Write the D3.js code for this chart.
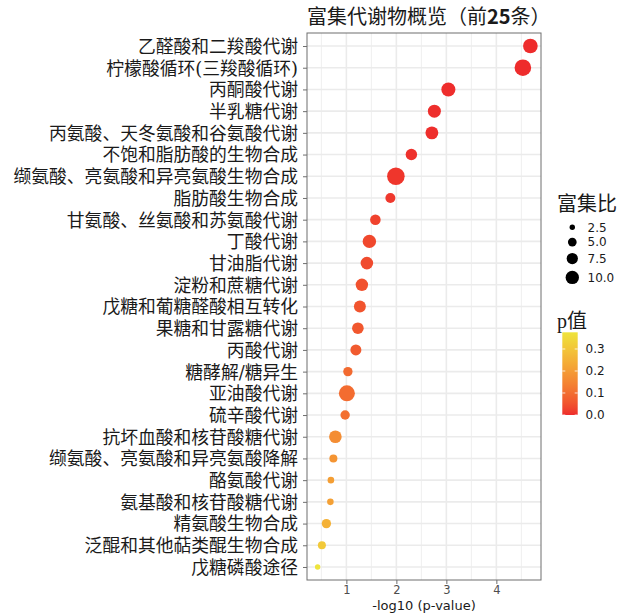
<!DOCTYPE html>
<html>
<head>
<meta charset="utf-8">
<script src="https://cdn.jsdelivr.net/npm/d3@7"></script>
<style>
  body { margin: 0; background: #ffffff; }
  svg { display: block; }
</style>
</head>
<body>
<svg id="chart" width="630" height="615"></svg>
<script>
// ---------------- data ----------------
const categories = [
  "乙醛酸和二羧酸代谢",
  "柠檬酸循环(三羧酸循环)",
  "丙酮酸代谢",
  "半乳糖代谢",
  "丙氨酸、天冬氨酸和谷氨酸代谢",
  "不饱和脂肪酸的生物合成",
  "缬氨酸、亮氨酸和异亮氨酸生物合成",
  "脂肪酸生物合成",
  "甘氨酸、丝氨酸和苏氨酸代谢",
  "丁酸代谢",
  "甘油脂代谢",
  "淀粉和蔗糖代谢",
  "戊糖和葡糖醛酸相互转化",
  "果糖和甘露糖代谢",
  "丙酸代谢",
  "糖酵解/糖异生",
  "亚油酸代谢",
  "硫辛酸代谢",
  "抗坏血酸和核苷酸糖代谢",
  "缬氨酸、亮氨酸和异亮氨酸降解",
  "酪氨酸代谢",
  "氨基酸和核苷酸糖代谢",
  "精氨酸生物合成",
  "泛醌和其他萜类醌生物合成",
  "戊糖磷酸途径"
];
// -log10(p-value)
const negLog10P = [4.68, 4.53, 3.04, 2.76, 2.71, 2.30, 1.99, 1.88, 1.58, 1.46,
                   1.41, 1.31, 1.27, 1.23, 1.19, 1.03, 1.01, 0.975, 0.78, 0.74,
                   0.69, 0.68, 0.60, 0.51, 0.425];
// enrichment ratio (富集比)
const enrichment = [11.6, 14.4, 10.8, 9.5, 9.3, 7.7, 15.9, 6.2, 6.8, 10.0,
                    9.0, 8.8, 8.3, 7.9, 7.2, 5.6, 13.5, 5.6, 9.0, 4.4,
                    3.3, 3.3, 5.6, 4.4, 2.5];
const sizeBreaks = [2.5, 5.0, 7.5, 10.0];
const colorBreaks = [0.0, 0.1, 0.2, 0.3];
const xTicks = [1, 2, 3, 4];
const xMinor = [0.5, 1.5, 2.5, 3.5, 4.5];

const titleText = ["富集代谢物概览（前", "25", "条）"];
const xTitle = "-log10 (p-value)";
const sizeTitle = "富集比";
const colorTitle = "p值";

// ---------------- layout ----------------
const W = 630, H = 615;
const panel = { left: 307, right: 541, top: 33, bottom: 580 };
const svg = d3.select("#chart");
svg.append("rect").attr("width", W).attr("height", H).attr("fill", "#ffffff");

const rows = categories.map((c, i) => ({
  cat: c, x: negLog10P[i], p: Math.pow(10, -negLog10P[i]), er: enrichment[i]
}));

const xExt = d3.extent(negLog10P);
const xPad = (xExt[1] - xExt[0]) * 0.05;
const x = d3.scaleLinear().domain([xExt[0] - xPad, xExt[1] + xPad])
  .range([panel.left, panel.right]);
const y = d3.scalePoint().domain(categories).range([panel.top, panel.bottom]).padding(0.6);

const r = d3.scaleSqrt().domain([2.5, 10]).range([2.7, 6.7]);

const pExt = d3.extent(rows, d => d.p);
const color = d3.scaleLinear().domain(pExt).range(["#EE2C2C", "#EEE43C"])
  .interpolate(d3.interpolateLab);

const gridColor = "#EBEBEB";
const sansFont = "'DejaVu Sans', sans-serif";
const cjkFont = "'DejaVu Serif', 'Noto Sans CJK SC', serif";

// grid
const grid = svg.append("g");
grid.selectAll("line.minor").data(xMinor.filter(v => x(v) > panel.left && x(v) < panel.right))
  .enter().append("line")
  .attr("x1", d => x(d)).attr("x2", d => x(d))
  .attr("y1", panel.top).attr("y2", panel.bottom)
  .attr("stroke", gridColor).attr("stroke-width", 0.8);
grid.selectAll("line.majx").data(xTicks).enter().append("line")
  .attr("x1", d => x(d)).attr("x2", d => x(d))
  .attr("y1", panel.top).attr("y2", panel.bottom)
  .attr("stroke", gridColor).attr("stroke-width", 1.6);
grid.selectAll("line.majy").data(categories).enter().append("line")
  .attr("x1", panel.left).attr("x2", panel.right)
  .attr("y1", d => y(d)).attr("y2", d => y(d))
  .attr("stroke", gridColor).attr("stroke-width", 1.6);

// points
svg.append("g").selectAll("circle").data(rows).enter().append("circle")
  .attr("cx", d => x(d.x)).attr("cy", d => y(d.cat))
  .attr("r", d => r(d.er))
  .attr("fill", d => color(d.p));

// panel border
svg.append("rect")
  .attr("x", panel.left).attr("y", panel.top)
  .attr("width", panel.right - panel.left).attr("height", panel.bottom - panel.top)
  .attr("fill", "none").attr("stroke", "#6e6e6e").attr("stroke-width", 1);

// x axis
const xAxis = svg.append("g").attr("transform", `translate(0,${panel.bottom})`)
  .call(d3.axisBottom(x).tickValues(xTicks).tickSize(4).tickPadding(2).tickFormat(d3.format("d")));
xAxis.select(".domain").remove();
xAxis.selectAll("line").attr("stroke", "#6e6e6e");
xAxis.selectAll("text").attr("font-family", sansFont).attr("font-size", 11.5).attr("fill", "#4D4D4D");

// y axis
const yAxis = svg.append("g").attr("transform", `translate(${panel.left},0)`)
  .call(d3.axisLeft(y).tickSize(4).tickPadding(5));
yAxis.select(".domain").remove();
yAxis.selectAll("line").attr("stroke", "#6e6e6e");
yAxis.selectAll("text").attr("font-family", cjkFont).attr("font-size", 17.8)
  .attr("fill", "#1a1a1a").attr("dy", "0.36em");

// x title
svg.append("text").attr("x", (panel.left + panel.right) / 2).attr("y", 609.5)
  .attr("text-anchor", "middle").attr("font-family", sansFont).attr("font-size", 13)
  .attr("fill", "#1a1a1a").text(xTitle);

// title
const t = svg.append("text").attr("x", panel.left).attr("y", 24)
  .attr("font-family", "'Noto Sans CJK SC', sans-serif").attr("font-size", 20)
  .attr("fill", "#1a1a1a");
t.append("tspan").text(titleText[0]);
t.append("tspan").attr("font-weight", "bold").text(titleText[1]);
t.append("tspan").text(titleText[2]);

// size legend
const lgX = 557;
svg.append("text").attr("x", lgX).attr("y", 211)
  .attr("font-family", cjkFont).attr("font-size", 20).attr("fill", "#1a1a1a").text(sizeTitle);
let cy = 220;
const keyH = sizeBreaks.map(v => Math.max(14.5, 2 * r(v) + 6.5));
const keyCenters = [];
keyH.forEach((h, i) => {
  if (i === 0) cy += h / 2; else cy += (keyH[i - 1] + h) / 2;
  keyCenters.push(cy);
});
const sl = svg.append("g");
sl.selectAll("circle").data(sizeBreaks).enter().append("circle")
  .attr("cx", 572.3).attr("cy", (d, i) => keyCenters[i]).attr("r", d => r(d)).attr("fill", "#000");
sl.selectAll("text").data(sizeBreaks).enter().append("text")
  .attr("x", 587.5).attr("y", (d, i) => keyCenters[i]).attr("dy", "0.36em")
  .attr("font-family", sansFont).attr("font-size", 12).attr("fill", "#1a1a1a")
  .text(d => d3.format(".1f")(d));

// color legend
svg.append("text").attr("x", lgX).attr("y", 328)
  .attr("font-family", "'Liberation Serif', 'Noto Sans CJK SC', serif").attr("font-size", 20)
  .attr("fill", "#1a1a1a").text(colorTitle);
const cb = { x: 562.3, w: 15.4, top: 332.3, bottom: 415 };
const cbScale = d3.scaleLinear().domain(pExt).range([cb.bottom, cb.top]);
const defs = svg.append("defs");
const grad = defs.append("linearGradient").attr("id", "pgrad")
  .attr("x1", 0).attr("y1", 1).attr("x2", 0).attr("y2", 0);
d3.range(0, 1.0001, 0.05).forEach(f => {
  const pv = pExt[0] + f * (pExt[1] - pExt[0]);
  grad.append("stop").attr("offset", f).attr("stop-color", color(pv));
});
svg.append("rect").attr("x", cb.x).attr("y", cb.top).attr("width", cb.w)
  .attr("height", cb.bottom - cb.top).attr("fill", "url(#pgrad)");
const cl = svg.append("g");
colorBreaks.forEach(b => {
  const yy = cbScale(b);
  cl.append("line").attr("x1", cb.x).attr("x2", cb.x + 3).attr("y1", yy).attr("y2", yy)
    .attr("stroke", "#ffffff").attr("stroke-width", 0.8);
  cl.append("line").attr("x1", cb.x + cb.w - 3).attr("x2", cb.x + cb.w).attr("y1", yy).attr("y2", yy)
    .attr("stroke", "#ffffff").attr("stroke-width", 0.8);
  cl.append("text").attr("x", 585.5).attr("y", yy).attr("dy", "0.36em")
    .attr("font-family", sansFont).attr("font-size", 12).attr("fill", "#1a1a1a")
    .text(d3.format(".1f")(b));
});
</script>
</body>
</html>
